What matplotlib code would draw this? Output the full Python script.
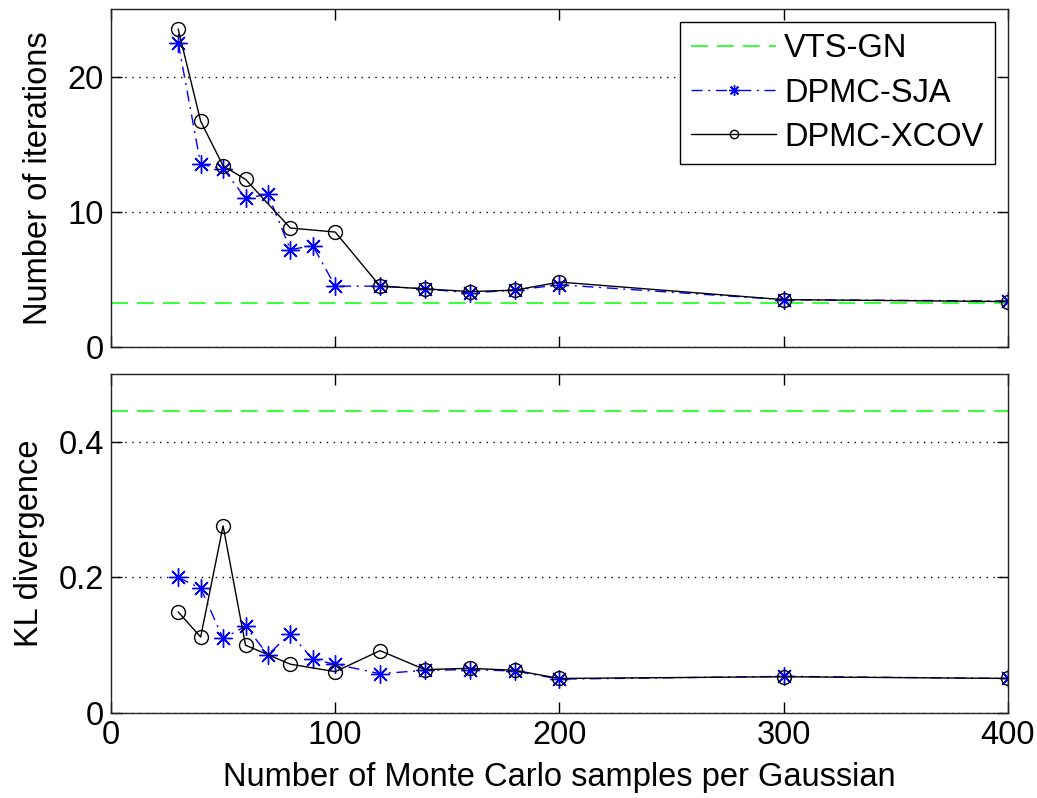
import matplotlib
matplotlib.use("Agg")
import matplotlib.pyplot as plt

plt.rcParams['font.family'] = ['Liberation Sans', 'DejaVu Sans']

# ---- data ----
sja_x = [30, 40, 50, 60, 70, 80, 90, 100, 120, 140, 160, 180, 200, 300, 400]
sja_iter = [22.5, 13.5, 13.2, 11.0, 11.3, 7.2, 7.5, 4.5, 4.5, 4.3, 4.0, 4.2, 4.6, 3.5, 3.4]
sja_kl = [0.200, 0.184, 0.110, 0.128, 0.086, 0.117, 0.079, 0.072, 0.058, 0.063, 0.064, 0.062, 0.050, 0.054, 0.051]

xcov_x = [30, 40, 50, 60, 80, 100, 120, 140, 160, 180, 200, 300, 400]
xcov_iter = [23.5, 16.7, 13.4, 12.4, 8.8, 8.5, 4.5, 4.3, 4.1, 4.2, 4.8, 3.5, 3.36]
xcov_kl = [0.149, 0.112, 0.276, 0.100, 0.072, 0.061, 0.092, 0.064, 0.066, 0.063, 0.051, 0.0535, 0.051]

vts_iter = 3.25
vts_kl = 0.445

labels = ['VTS-GN', 'DPMC-SJA', 'DPMC-XCOV']
xticks = [0, 100, 200, 300, 400]
yticks_top = [0, 10, 20]
yticks_bot = [0, 0.2, 0.4]
ytick_labels_bot = ['0', '0.2', '0.4']

fig = plt.figure(figsize=(10.37, 7.98), dpi=100)
ax1 = fig.add_axes([0.107, 0.5652, 0.865, 0.4235])
ax2 = fig.add_axes([0.107, 0.1065, 0.865, 0.4248])

FS = 23.5
ASTER = (8, 2, 0)
for ax, ys_sja, ys_xcov, vts, yt in [
        (ax1, sja_iter, xcov_iter, vts_iter, yticks_top),
        (ax2, sja_kl, xcov_kl, vts_kl, yticks_bot)]:
    ax.plot([0, 400], [vts, vts], color=(0, 1, 0), lw=1.1, dashes=(11, 6), label=labels[0])
    ax.plot(sja_x, ys_sja, color=(0, 0, 1), lw=1.0, linestyle=(0, (8, 4, 1.5, 4)),
            marker=ASTER, markersize=13, markeredgewidth=1.0, label=labels[1])
    ax.plot(xcov_x, ys_xcov, color='black', lw=1.0, linestyle='-',
            marker='o', markersize=10, markerfacecolor='none', markeredgewidth=1.0,
            label=labels[2])
    ax.set_xlim(0, 400)
    ax.set_xticks(xticks)
    ax.set_yticks(yt)
    ax.yaxis.grid(True, linestyle=(0, (1, 4)), color='black', lw=1.0)
    ax.xaxis.grid(False)
    ax.tick_params(direction='in', top=True, right=True, length=8, width=1.0,
                   labelsize=FS, pad=5)
    for s in ax.spines.values():
        s.set_linewidth(1.0)
        s.set_color('#222222')

ax1.set_ylim(0, 25)
ax2.set_ylim(0, 0.5)
ax2.set_yticklabels(ytick_labels_bot)
ax1.set_xticklabels([])
ax2.set_xticklabels([str(v) for v in xticks])

ax1.set_ylabel('Number of iterations', fontsize=FS, labelpad=10)
ax2.set_ylabel('KL divergence', fontsize=FS, labelpad=10)
ax2.set_xlabel('Number of Monte Carlo samples per Gaussian', fontsize=FS, labelpad=8)

leg = ax1.legend(loc='upper right', fontsize=FS, frameon=True, fancybox=False,
                 edgecolor='black', framealpha=1.0, handlelength=2.6,
                 borderaxespad=0.4, labelspacing=0.4, handletextpad=0.25,
                 borderpad=0.35, markerscale=0.6)
leg.get_frame().set_linewidth(1.0)

fig.savefig('out.png', dpi=100)
